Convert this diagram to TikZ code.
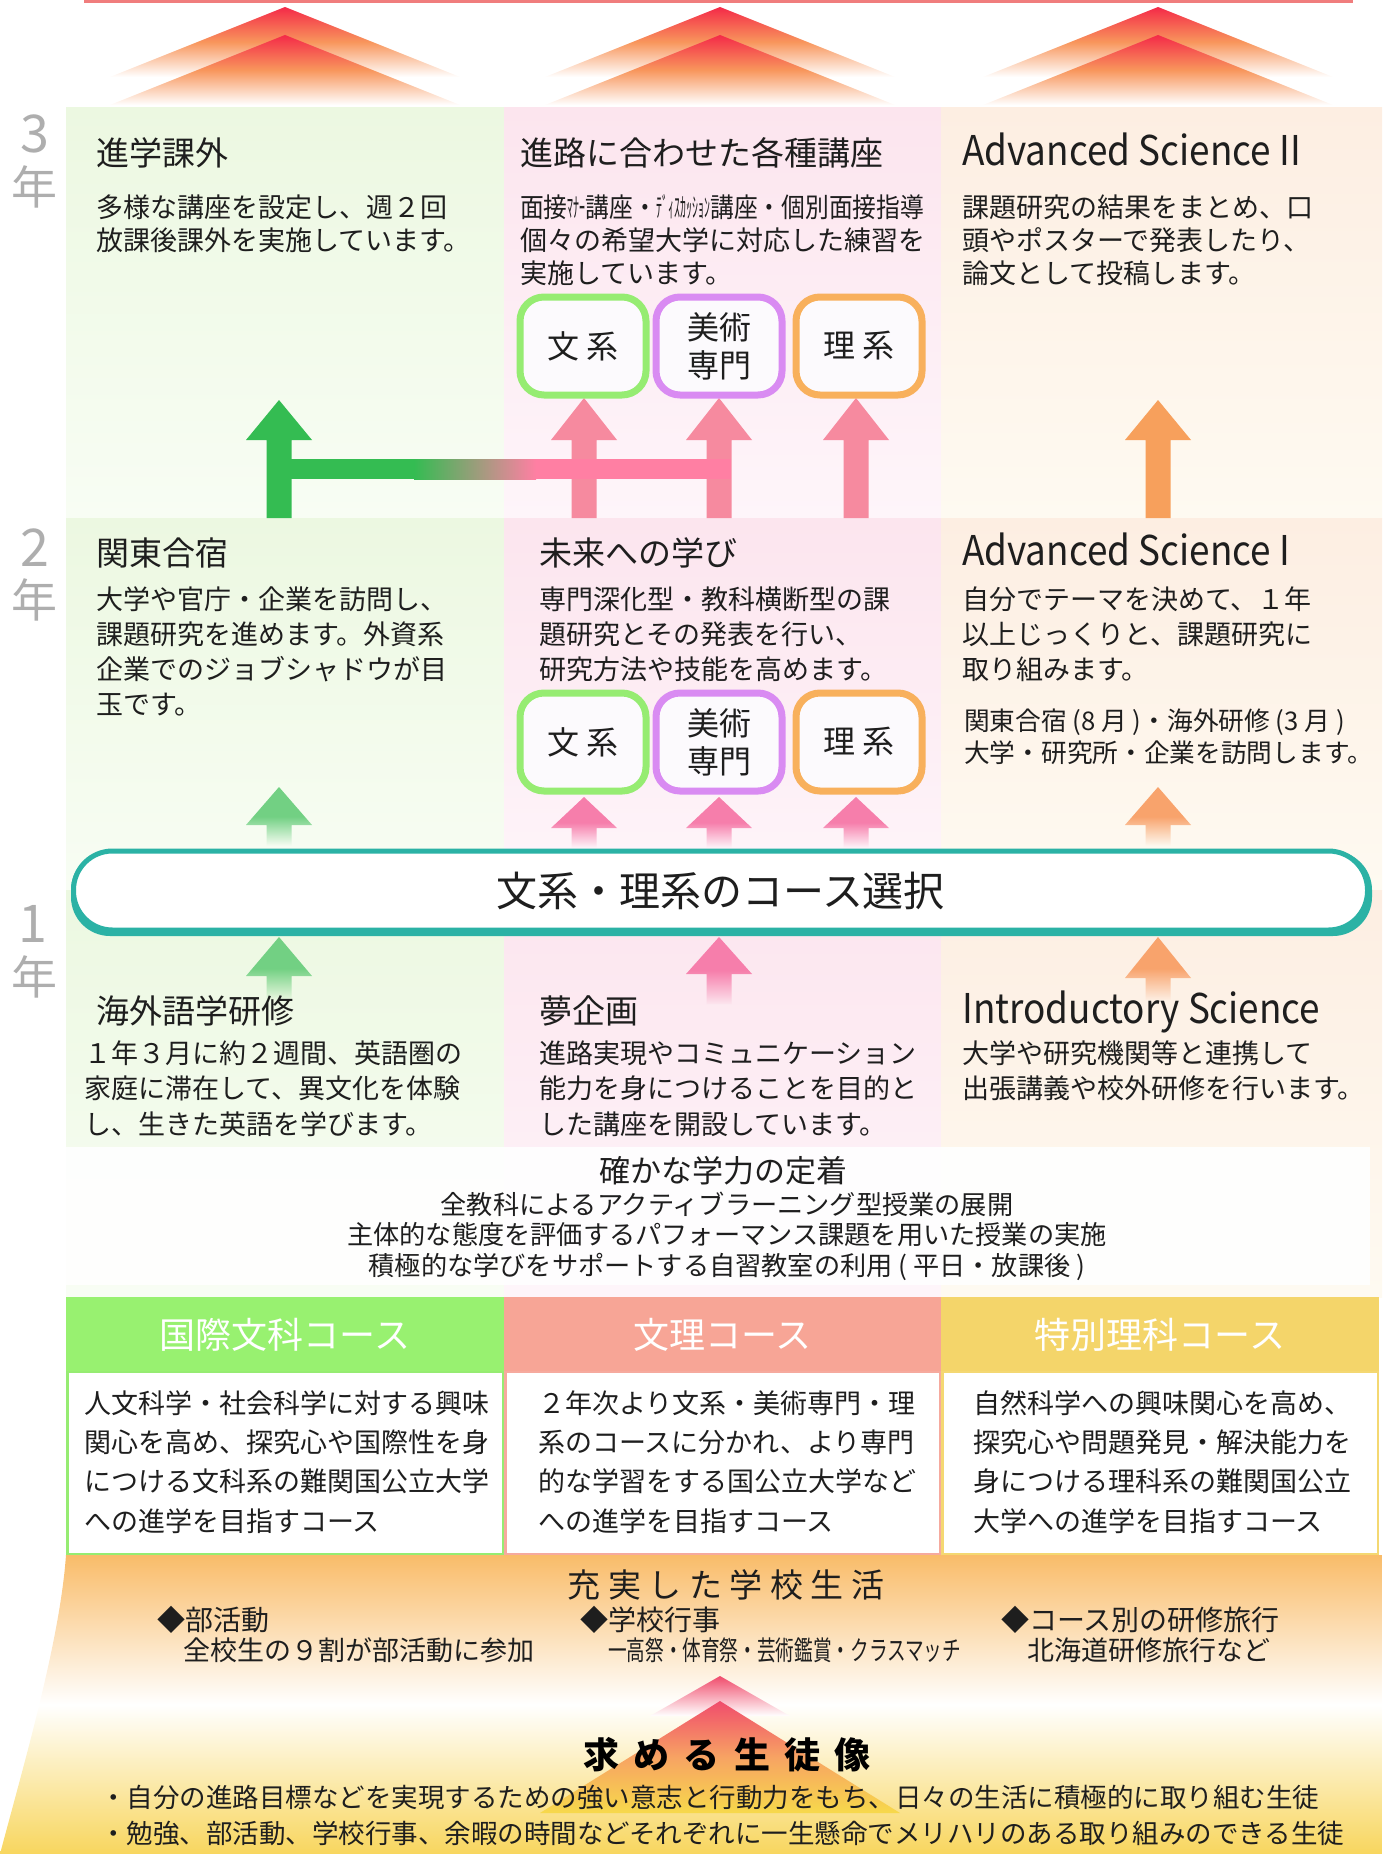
\documentclass[tikz,border=0pt]{standalone}
\usepackage{fontspec}
\usepackage{graphicx}
\setmainfont{Noto Sans CJK JP}

\definecolor{topline}{HTML}{F07D7D}
\definecolor{chevred}{HTML}{F42A48}
\definecolor{chevorg}{HTML}{F8965C}
\definecolor{grnhi}{HTML}{ECF8E1}
\definecolor{grnlo}{HTML}{F8FDF4}
\definecolor{pnkhi}{HTML}{FCE5EE}
\definecolor{pnklo}{HTML}{FEF5FA}
\definecolor{orghi}{HTML}{FDEEE2}
\definecolor{orglo}{HTML}{FEFAF1}
\definecolor{arrgrn}{HTML}{34BC52}
\definecolor{arrpnk}{HTML}{F68A9F}
\definecolor{barpnk}{HTML}{FF7FA3}
\definecolor{arrorg}{HTML}{F7A05C}
\definecolor{fadegrn}{HTML}{72D083}
\definecolor{fadepnk}{HTML}{F67EAB}
\definecolor{fadeorg}{HTML}{F8A36C}
\definecolor{boxgrn}{HTML}{96EC72}
\definecolor{boxprp}{HTML}{D98BF2}
\definecolor{boxorg}{HTML}{F8B05C}
\definecolor{boxbg}{HTML}{FCFAFD}
\definecolor{bandteal}{HTML}{2BB2A5}
\definecolor{hdgrn}{HTML}{98F170}
\definecolor{hdpnk}{HTML}{F7A596}
\definecolor{hdylw}{HTML}{F4D56A}
\definecolor{lnpnk}{HTML}{F6AA9E}
\definecolor{lnylw}{HTML}{F4D872}
\definecolor{lifeorg}{HTML}{F9BC69}
\definecolor{lifeylw}{HTML}{F8D65E}
\definecolor{trired}{HTML}{F04C6C}
\definecolor{triorg}{HTML}{F7A363}
\definecolor{triylw}{HTML}{F7D94B}
\definecolor{yrgray}{HTML}{AEAEAE}
\definecolor{ink}{HTML}{1E1E1E}

% block arrow: options, x, tip, head base, bottom
\newcommand{\blockarrow}[5]{%
	\path[#1] (#2-12.5,#5) -- (#2-12.5,#4) -- (#2-33,#4) -- (#2,#3) -- (#2+33,#4) -- (#2+12.5,#4) -- (#2+12.5,#5) -- cycle;}

\tikzset{
	chevron/.style={top color=chevred, bottom color=white, middle color=chevorg},
	fadearrow/.style 2 args={top color=#1, bottom color=#2, middle color=#1},
	yearnum/.style={inner sep=0pt, text=yrgray, font=\fontsize{52}{52}\selectfont},
	yearkanji/.style={inner sep=0pt, text=yrgray, font=\fontsize{46}{46}\selectfont},
	title/.style={anchor=base west, inner sep=0pt, text=ink, font=\fontsize{33}{36}\selectfont},
	etitle/.style={anchor=base west, inner sep=0pt, text=ink, font=\fontsize{41}{44}\selectfont\addfontfeature{FakeStretch=0.9}},
	% multi-line texts sit on the baseline of their last line
	body/.style={anchor=base west, inner sep=0pt, align=left, text=ink, font=\fontsize{27}{#1}\selectfont},
	body/.default=35,
	note/.style={anchor=base west, inner sep=0pt, align=left, text=ink, font=\fontsize{25.7}{32}\selectfont},
	pathbox/.style={draw=#1, rounded corners=24pt, line width=7pt, fill=boxbg, minimum width=126pt,
		minimum height=98pt, inner sep=0pt, align=center, text=ink, font=\fontsize{32}{38}\selectfont},
	band/.style={draw=bandteal, line width=5pt, fill=white, rounded corners=39pt, minimum width=1294pt,
		minimum height=79pt, inner sep=0pt, text=ink, font=\fontsize{41}{44}\selectfont},
	crshead/.style={minimum height=75pt, inner sep=0pt, text=white, font=\fontsize{36}{38}\selectfont},
	life/.style={anchor=base west, inner sep=0pt, text=ink, font=\fontsize{28}{30}\selectfont},
	bullet/.style={anchor=base west, inner sep=0pt, text=ink, font=\fontsize{26.5}{30}\selectfont}
}

\begin{document}
\begin{tikzpicture}[x=1pt, y=-1pt]
	\useasboundingbox (0,0) rectangle (1382,1854);
	
	% panels, one band per year
	\path[top color=grnhi, bottom color=grnlo] (66,108) rectangle (504,518);
	\path[top color=pnkhi, bottom color=pnklo] (504,108) rectangle (941,518);
	\path[top color=orghi, bottom color=orglo] (941,108) rectangle (1382,518);
	\path[top color=grnhi, bottom color=grnlo] (66,518) rectangle (504,890);
	\path[top color=pnkhi, bottom color=pnklo] (504,518) rectangle (941,890);
	\path[top color=orghi, bottom color=orglo] (941,518) rectangle (1382,890);
	\path[top color=grnhi, bottom color=grnlo] (66,890) rectangle (504,1297);
	\path[top color=pnkhi, bottom color=pnklo] (504,890) rectangle (941,1297);
	\path[top color=orghi, bottom color=orglo] (941,890) rectangle (1382,1297);
	
	% goal chevrons
	\fill[topline] (84,0) rectangle (1353,3);
	\path[chevron] (285,7) -- (460,77) -- (110,77) -- cycle;
	\path[chevron] (285,35) -- (460,105) -- (110,105) -- cycle;
	\path[chevron] (720,7) -- (895,77) -- (545,77) -- cycle;
	\path[chevron] (720,35) -- (895,105) -- (545,105) -- cycle;
	\path[chevron] (1158,7) -- (1333,77) -- (983,77) -- cycle;
	\path[chevron] (1158,35) -- (1333,105) -- (983,105) -- cycle;
	
	% year 3 arrows
	\blockarrow{fill=arrgrn}{279}{400}{440}{518}
	\blockarrow{fill=arrpnk}{584}{398}{440}{518}
	\blockarrow{fill=arrpnk}{719}{398}{440}{518}
	\blockarrow{fill=arrpnk}{856}{398}{440}{518}
	\blockarrow{fill=arrorg}{1158}{400}{440}{518}
	\fill[arrgrn] (279,459) rectangle (414,479);
	\path[left color=arrgrn, right color=barpnk] (414,459) rectangle (536,479);
	\fill[barpnk] (536,459) rectangle (731,479);
	
	% year 2 arrows
	\blockarrow{fadearrow={fadegrn}{grnlo}}{279}{787}{825}{846}
	\blockarrow{fadearrow={fadepnk}{pnklo}}{584}{797}{828}{848}
	\blockarrow{fadearrow={fadepnk}{pnklo}}{719}{797}{828}{848}
	\blockarrow{fadearrow={fadepnk}{pnklo}}{856}{797}{828}{848}
	\blockarrow{fadearrow={fadeorg}{orglo}}{1158}{787}{825}{846}
	
	% year 1 arrows
	\blockarrow{fadearrow={fadegrn}{grnhi}}{279}{937}{976}{1000}
	\blockarrow{fadearrow={fadepnk}{pnkhi}}{719}{937}{974}{1004}
	\blockarrow{fadearrow={fadeorg}{orghi}}{1158}{937}{978}{1000}
	
	% course boxes
	\node[pathbox=boxgrn] (lit3) at (583,346) {文 系};
	\node[pathbox=boxprp] (art3) at (719,346) {美術\\専門};
	\node[pathbox=boxorg] (sci3) at (859,346) {理 系};
	\node[pathbox=boxgrn] (lit2) at (583,742) {文 系};
	\node[pathbox=boxprp] (art2) at (719,742) {美術\\専門};
	\node[pathbox=boxorg] (sci2) at (859,742) {理 系};
	
	% course choice
	\fill[bandteal, rounded corners=39pt] (71,851) rectangle (1372,936);
	\node[band] (choice) at (720.5,890.5) {文系・理系のコース選択};
	
	% year labels
	\node[yearnum] (y3) at (35,134) {3};
	\node[yearkanji] (y3k) at (35,187) {年};
	\node[yearnum] (y2) at (35,548) {2};
	\node[yearkanji] (y2k) at (35,600) {年};
	\node[yearnum] (y1) at (33,924) {1};
	\node[yearkanji] (y1k) at (35,977) {年};
	
	% year 3
	\node[title] (t3lit) at (96,166) {進学課外};
	\node[body=33] (b3lit) at (96,250) {多様な講座を設定し、週２回\\放課後課外を実施しています。};
	\node[title] (t3mid) at (520,166) {進路に合わせた各種講座};
	\node[body=33] (b3mid) at (520,283) {\scalebox{0.88}[1]{面接\scalebox{0.5}[1]{ﾏﾅｰ}講座・\scalebox{0.5}[1]{ﾃﾞｨｽｶｯｼｮﾝ}講座・個別面接指導}\\個々の希望大学に対応した練習を\\実施しています。};
	\node[etitle] (t3sci) at (962,166) {Advanced Science II};
	\node[body=33] (b3sci) at (962,283) {課題研究の結果をまとめ、口\\頭やポスターで発表したり、\\論文として投稿します。};
	
	% year 2
	\node[title] (t2lit) at (96,565) {関東合宿};
	\node[body] (b2lit) at (96,714) {大学や官庁・企業を訪問し、\\課題研究を進めます。外資系\\企業でのジョブシャドウが目\\玉です。};
	\node[title] (t2mid) at (539,565) {未来への学び};
	\node[body] (b2mid) at (539,679) {専門深化型・教科横断型の課\\題研究とその発表を行い、\\研究方法や技能を高めます。};
	\node[etitle] (t2sci) at (962,565) {Advanced Science I};
	\node[body] (b2sci) at (962,679) {自分でテーマを決めて、１年\\以上じっくりと、課題研究に\\取り組みます。};
	\node[note] (n2sci) at (964,762) {関東合宿 (8 月 )・海外研修 (3 月 )\\大学・研究所・企業を訪問します。};
	
	% year 1
	\node[title] (t1lit) at (96,1023) {海外語学研修};
	\node[body=35.5] (b1lit) at (84,1134) {１年３月に約２週間、英語圏の\\家庭に滞在して、異文化を体験\\し、生きた英語を学びます。};
	\node[title] (t1mid) at (539,1023) {夢企画};
	\node[body=35.5] (b1mid) at (539,1134) {進路実現やコミュニケーション\\能力を身につけることを目的と\\した講座を開設しています。};
	\node[etitle] (t1sci) at (962,1023) {Introductory Science};
	\node[body=35.5] (b1sci) at (962,1098.5) {大学や研究機関等と連携して\\出張講義や校外研修を行います。};
	
	% basics
	\fill[white, fill opacity=0.9] (66,1147) rectangle (1370,1285);
	\node[inner sep=0pt, text=ink, font=\fontsize{31}{34}\selectfont] (basic) at (723,1171) {確かな学力の定着};
	\node[inner sep=0pt, align=center, text=ink, font=\fontsize{26.2}{30.5}\selectfont] (basiclist) at (727,1236)
		{全教科によるアクティブラーニング型授業の展開\\主体的な態度を評価するパフォーマンス課題を用いた授業の実施\\積極的な学びをサポートする自習教室の利用 ( 平日・放課後 )};
	
	% school life
	\path[top color=lifeorg, bottom color=lifeylw, middle color=white]
		(66,1555) -- (1382,1555) -- (1382,1854) -- (0,1854) .. controls (25,1760) and (60,1640) .. (66,1555) -- cycle;
	
	% courses
	\node[crshead, fill=hdgrn, minimum width=438pt] (hdlit) at (285,1334.5) {国際文科コース};
	\node[crshead, fill=hdpnk, minimum width=437pt] (hdmid) at (722.5,1334.5) {文理コース};
	\node[crshead, fill=hdylw, minimum width=438pt] (hdsci) at (1160,1334.5) {特別理科コース};
	\draw[boxgrn, line width=2.5pt, fill=white] (67.25,1372) rectangle (502.75,1554);
	\draw[lnpnk, line width=2.5pt, fill=white] (505.25,1372) rectangle (939.75,1554);
	\draw[lnylw, line width=2.5pt, fill=white] (942.25,1372) rectangle (1377.75,1554);
	\node[body=39.3] (cblit) at (84,1531) {人文科学・社会科学に対する興味\\関心を高め、探究心や国際性を身\\につける文科系の難関国公立大学\\への進学を目指すコース};
	\node[body=39.3] (cbmid) at (538,1531) {２年次より文系・美術専門・理\\系のコースに分かれ、より専門\\的な学習をする国公立大学など\\への進学を目指すコース};
	\node[body=39.3] (cbsci) at (973,1531) {自然科学への興味関心を高め、\\探究心や問題発見・解決能力を\\身につける理科系の難関国公立\\大学への進学を目指すコース};
	
	% school life text
	\node[inner sep=0pt, text=ink, font=\fontsize{33}{36}\selectfont\addfontfeature{LetterSpace=23}] (life) at (726,1585) {充実した学校生活};
	\node[life] (club) at (157,1630) {◆部活動};
	\node[life, font=\fontsize{27}{30}\selectfont] (clubtxt) at (183,1660) {全校生の９割が部活動に参加};
	\node[life] (event) at (580,1630) {◆学校行事};
	\node[life, font=\fontsize{27}{30}\selectfont] (eventtxt) at (608,1660) {\scalebox{0.69}[1]{一高祭・体育祭・芸術鑑賞・クラスマッチ}};
	\node[life] (trip) at (1001,1630) {◆コース別の研修旅行};
	\node[life, font=\fontsize{27}{30}\selectfont] (triptxt) at (1027,1660) {北海道研修旅行など};
	
	% wanted student
	\path[top color=trired, bottom color=white] (720,1676) -- (790,1716) -- (650,1716) -- cycle;
	\path[top color=trired, bottom color=triylw, middle color=triorg] (720,1701) -- (900,1813) -- (540,1813) -- cycle;
	\node[inner sep=0pt, text=black, font=\fontsize{36}{38}\selectfont\bfseries\addfontfeature{LetterSpace=40}] (want) at (727,1755) {求める生徒像};
	\node[bullet] (want1) at (100,1807) {・自分の進路目標などを実現するための強い意志と行動力をもち、日々の生活に積極的に取り組む生徒};
	\node[bullet] (want2) at (100,1843) {・勉強、部活動、学校行事、余暇の時間などそれぞれに一生懸命でメリハリのある取り組みのできる生徒};
\end{tikzpicture}
\end{document}
